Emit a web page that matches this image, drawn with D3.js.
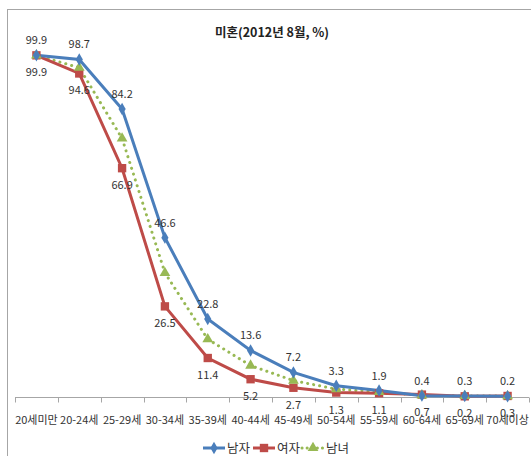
<!DOCTYPE html>
<html>
<head>
<meta charset="utf-8">
<script src="https://cdn.jsdelivr.net/npm/d3@7"></script>
<style>
  html, body { margin: 0; padding: 0; background: #fff; }
  svg { display: block; font-family: "Noto Sans CJK KR", "Noto Sans", sans-serif; }
</style>
</head>
<body>
<svg id="chart" width="531" height="456"></svg>
<script>
// Never-married ratio by age group, August 2012 (%)
const categories = ["20세미만", "20-24세", "25-29세", "30-34세", "35-39세", "40-44세",
                    "45-49세", "50-54세", "55-59세", "60-64세", "65-69세", "70세이상"];
const male   = [99.9, 98.7, 84.2, 46.6, 22.8, 13.6, 7.2, 3.3, 1.9, 0.4, 0.3, 0.2];
const female = [99.9, 94.6, 66.9, 26.5, 11.4, 5.2, 2.7, 1.3, 1.1, 0.7, 0.2, 0.3];
const total  = [99.9, 96.3, 75.6, 36.3, 16.9, 9.2, 4.8, 2.3, 1.5, 0.5, 0.3, 0.25];
const seriesNames = ["남자", "여자", "남녀"];

const svg = d3.select("#chart");
const W = 531, H = 456;

// outer frame
svg.append("rect").attr("x", 7.5).attr("y", 9.5).attr("width", W).attr("height", H)
  .attr("fill", "none").attr("stroke", "#a6a6a6").attr("stroke-width", 1);

const x = d3.scaleBand().domain(categories).range([15, 529]).padding(0);
const y = d3.scaleLinear().domain([0, 100]).range([397, 55]);
const cx = d => x(d) + x.bandwidth() / 2;

// title
svg.append("text").attr("x", 272).attr("y", 37).attr("text-anchor", "middle")
  .attr("font-size", 12.5).attr("font-weight", "bold").attr("fill", "#222")
  .text("미혼(2012년 8월, %)");

// x axis with boundary ticks
const axisG = svg.append("g").attr("transform", "translate(0,397.5)");
axisG.append("line").attr("x1", 15).attr("x2", 529).attr("stroke", "#a6a6a6");
const bounds = categories.map(c => x(c)).concat([x.range()[1]]);
axisG.selectAll("line.tick").data(bounds).enter().append("line")
  .attr("class", "tick").attr("x1", d => Math.round(d) + 0.5).attr("x2", d => Math.round(d) + 0.5)
  .attr("y1", 0).attr("y2", 5).attr("stroke", "#a6a6a6");
axisG.selectAll("text").data(categories).enter().append("text")
  .attr("x", d => cx(d)).attr("y", 26).attr("text-anchor", "middle")
  .attr("font-size", 11).attr("fill", "#333").text(d => d);

const colors = { male: "#4a7ebb", female: "#be4b48", total: "#98b954" };
const line = d3.line().x((d, i) => cx(categories[i])).y(d => y(d));

// total (dotted)
svg.append("path").datum(total).attr("d", line).attr("fill", "none")
  .attr("stroke", colors.total).attr("stroke-width", 3)
  .attr("stroke-dasharray", "0.1 6").attr("stroke-linecap", "round");
// female
svg.append("path").datum(female).attr("d", line).attr("fill", "none")
  .attr("stroke", colors.female).attr("stroke-width", 3);
// male
svg.append("path").datum(male).attr("d", line).attr("fill", "none")
  .attr("stroke", colors.male).attr("stroke-width", 3);

const tri = d3.symbol().type(d3.symbolTriangle).size(50);
const sq = d3.symbol().type(d3.symbolSquare).size(70);
const dia = d3.symbol().type(d3.symbolDiamond).size(45);

svg.selectAll("path.m-f").data(female).enter().append("path").attr("class", "m-f")
  .attr("d", sq).attr("fill", colors.female)
  .attr("transform", (d, i) => `translate(${cx(categories[i])},${y(d)})`);
svg.selectAll("path.m-t").data(total).enter().append("path").attr("class", "m-t")
  .attr("d", tri).attr("fill", colors.total)
  .attr("transform", (d, i) => `translate(${cx(categories[i])},${y(d)})`);
svg.selectAll("path.m-m").data(male).enter().append("path").attr("class", "m-m")
  .attr("d", dia).attr("fill", colors.male)
  .attr("transform", (d, i) => `translate(${cx(categories[i])},${y(d)})`);

// value labels: male above, female below
svg.selectAll("text.l-m").data(male).enter().append("text").attr("class", "l-m")
  .attr("x", (d, i) => cx(categories[i])).attr("y", d => y(d) - 11)
  .attr("text-anchor", "middle").attr("font-size", 11).attr("fill", "#333")
  .text(d => d.toFixed(1));
svg.selectAll("text.l-f").data(female).enter().append("text").attr("class", "l-f")
  .attr("x", (d, i) => cx(categories[i])).attr("y", d => y(d) + 21)
  .attr("text-anchor", "middle").attr("font-size", 11).attr("fill", "#333")
  .text(d => d.toFixed(1));

// legend
const lg = svg.append("g").attr("transform", "translate(0,448)");
const items = [
  { name: seriesNames[0], color: colors.male, sym: dia, x0: 203, dash: null },
  { name: seriesNames[1], color: colors.female, sym: sq, x0: 253, dash: null },
  { name: seriesNames[2], color: colors.total, sym: tri, x0: 302, dash: "0.1 5" }
];
items.forEach(it => {
  lg.append("line").attr("x1", it.x0).attr("x2", it.x0 + 22).attr("y1", 0).attr("y2", 0)
    .attr("stroke", it.color).attr("stroke-width", 3)
    .attr("stroke-dasharray", it.dash).attr("stroke-linecap", it.dash ? "round" : "butt");
  lg.append("path").attr("d", it.sym).attr("fill", it.color)
    .attr("transform", `translate(${it.x0 + 11},0)`);
  lg.append("text").attr("x", it.x0 + 24).attr("y", 5).attr("font-size", 12.5)
    .attr("fill", "#333").text(it.name);
});
</script>
</body>
</html>
